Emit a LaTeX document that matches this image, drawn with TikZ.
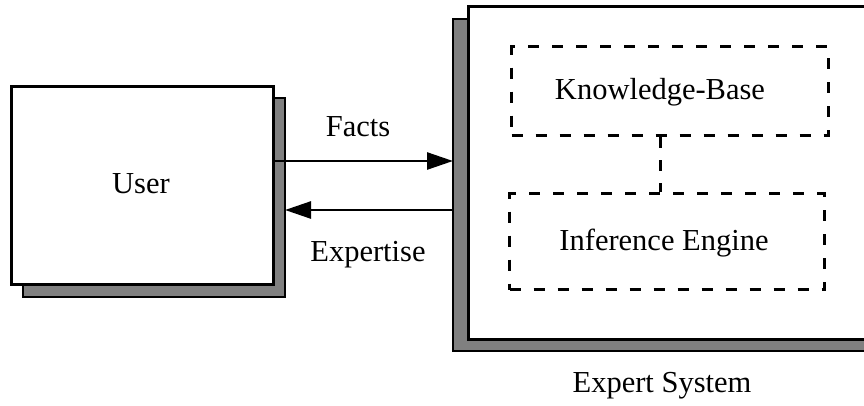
\documentclass[tikz,border=0pt]{standalone}
\usepackage{fontspec}
\setmainfont{Liberation Serif}
\usetikzlibrary{arrows.meta,patterns}
\tikzset{
  box/.style={draw=black, line width=2.6pt, fill=white},
  shade/.style={draw=black, line width=2.6pt, fill=black!50},
  dashbox/.style={draw=black, line width=3pt, dash pattern=on 11pt off 13pt},
  flow/.style={line width=2.6pt, -{Triangle[length=26pt,width=17pt]}},
  lbl/.style={font=\fontsize{30.5}{34}\selectfont, inner sep=0pt}
}
\begin{document}
\begin{tikzpicture}[x=1pt, y=-1pt]
  \useasboundingbox (0,0) rectangle (864,405);
  % user box with its drop shadow
  \draw[shade] (23,98) rectangle (285,297);
  \node[box, minimum width=262pt, minimum height=198pt, anchor=north west, inner sep=0pt] (user) at (10,85) {};
  \node[lbl] (usertxt) at (141,184) {User};
  % expert system box with its shadow on the left
  \draw[shade] (453,19) rectangle (880,351);
  \node[box, minimum width=413pt, minimum height=333pt, anchor=north west, inner sep=0pt] (expert) at (467,5) {};
  \coordinate (eshadow) at (453,180);
  \coordinate (ushadow) at (285,180);
  % inner components
  \node[dashbox, minimum width=317pt, minimum height=89pt, anchor=north west, inner sep=0pt] (kb) at (510,45) {};
  \node[lbl] at (660,92) {Knowledge-Base};
  \node[dashbox, minimum width=315pt, minimum height=96pt, anchor=north west, inner sep=0pt] (ie) at (508,192) {};
  \node[lbl] at (664,243) {Inference Engine};
  \draw[dashbox, dash pattern=on 11pt off 12pt] (kb.south -| 660,0) -- (ie.north -| 660,0);
  % information flow
  \coordinate (fy) at (0,161);
  \coordinate (ey) at (0,210);
  \draw[flow] (user.east |- fy) -- (eshadow |- fy);
  \draw[flow] (eshadow |- ey) -- (ushadow |- ey);
  \node[lbl] (facts) at (358,127) {Facts};
  \node[lbl] (exptxt) at (368,255) {Expertise};
  \node[lbl] (esys) at (662,386) {Expert System};
\end{tikzpicture}
\end{document}
